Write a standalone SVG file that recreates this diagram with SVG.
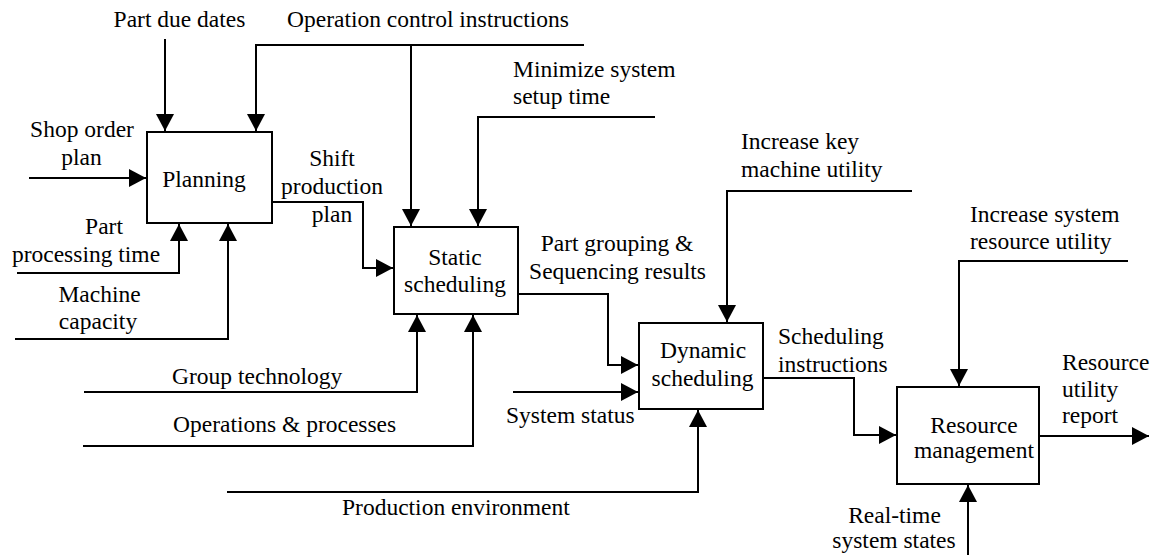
<svg xmlns="http://www.w3.org/2000/svg" width="1158" height="555" viewBox="0 0 1158 555">
<style>
text{font-family:'Liberation Serif','Times New Roman',serif;font-size:23.5px;fill:#000}
.c{text-anchor:middle}
.box{fill:#fff;stroke:#000;stroke-width:2}
.ln{fill:none;stroke:#000;stroke-width:2;stroke-linejoin:miter}
</style>
<defs>
<marker id="ah" markerUnits="userSpaceOnUse" markerWidth="18" markerHeight="18" refX="17" refY="9" orient="auto">
<path d="M0,0 L17,9 L0,18 z" fill="#000"/>
</marker>
</defs>
<rect width="1158" height="555" fill="#fff"/>
<g id="connectors">
<path class="ln" d="M165,39 V131" marker-end="url(#ah)"/>
<path class="ln" d="M584,45 H256 V131" marker-end="url(#ah)"/>
<path class="ln" d="M411,45 V226" marker-end="url(#ah)"/>
<path class="ln" d="M29,178 H146" marker-end="url(#ah)"/>
<path class="ln" d="M17,273 H179 V224" marker-end="url(#ah)"/>
<path class="ln" d="M15,339 H228 V224" marker-end="url(#ah)"/>
<path class="ln" d="M272,202 H363 V268 H393" marker-end="url(#ah)"/>
<path class="ln" d="M655,117 H478 V226" marker-end="url(#ah)"/>
<path class="ln" d="M84,392 H417 V315" marker-end="url(#ah)"/>
<path class="ln" d="M83,446 H473 V315" marker-end="url(#ah)"/>
<path class="ln" d="M518,294 H608 V365 H638" marker-end="url(#ah)"/>
<path class="ln" d="M513,392 H638" marker-end="url(#ah)"/>
<path class="ln" d="M227,492 H698 V410" marker-end="url(#ah)"/>
<path class="ln" d="M912,191 H727 V322" marker-end="url(#ah)"/>
<path class="ln" d="M763,378 H854 V435 H896" marker-end="url(#ah)"/>
<path class="ln" d="M1128,261 H959 V386" marker-end="url(#ah)"/>
<path class="ln" d="M968,555 V485" marker-end="url(#ah)"/>
<path class="ln" d="M1039,436 H1149" marker-end="url(#ah)"/>
</g>
<g id="planning">
<rect class="box" x="147" y="132" width="125" height="91"/>
<text class="c" x="204" y="187">Planning</text>
</g>
<g id="static-scheduling">
<rect class="box" x="394" y="227" width="124" height="87"/>
<text class="c" x="455" y="265">Static</text>
<text class="c" x="455" y="292">scheduling</text>
</g>
<g id="dynamic-scheduling">
<rect class="box" x="639" y="323" width="124" height="86"/>
<text class="c" x="703" y="358">Dynamic</text>
<text class="c" x="702.5" y="386">scheduling</text>
</g>
<g id="resource-management">
<rect class="box" x="897" y="387" width="142" height="97"/>
<text class="c" x="974" y="433">Resource</text>
<text class="c" x="974" y="458">management</text>
</g>
<g id="labels">
<text class="c" x="179.5" y="26.5">Part due dates</text>
<text class="c" x="428" y="27">Operation control instructions</text>
<text class="c" x="82" y="137">Shop order</text>
<text class="c" x="81.5" y="165">plan</text>
<text class="c" x="332" y="166">Shift</text>
<text class="c" x="332" y="194">production</text>
<text class="c" x="332" y="222">plan</text>
<text class="c" x="104" y="234">Part</text>
<text class="c" x="86" y="262">processing time</text>
<text class="c" x="99.5" y="302">Machine</text>
<text class="c" x="98" y="328.5">capacity</text>
<text x="513" y="77">Minimize system</text>
<text x="513" y="103.5">setup time</text>
<text class="c" x="617" y="251">Part grouping &amp;</text>
<text class="c" x="617.5" y="278.5">Sequencing results</text>
<text x="741" y="148.5">Increase key</text>
<text x="741" y="177">machine utility</text>
<text x="970" y="222">Increase system</text>
<text x="970" y="249">resource utility</text>
<text x="778" y="344">Scheduling</text>
<text x="778" y="372">instructions</text>
<text x="1062" y="370">Resource</text>
<text x="1062" y="397">utility</text>
<text x="1062" y="423">report</text>
<text x="172" y="384">Group technology</text>
<text x="173" y="432">Operations &amp; processes</text>
<text x="506" y="423">System status</text>
<text x="342" y="515">Production environment</text>
<text class="c" x="894.5" y="523">Real-time</text>
<text class="c" x="894" y="548">system states</text>
</g>
</svg>
